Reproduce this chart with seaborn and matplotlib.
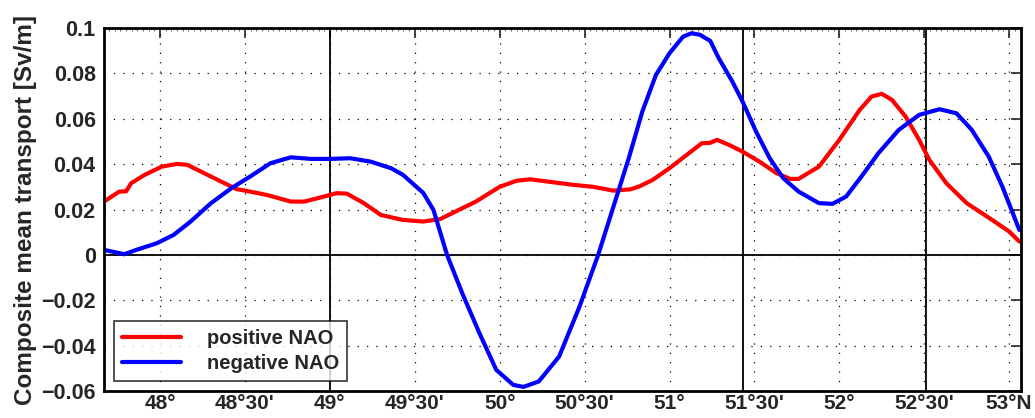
import numpy as np
import pandas as pd
import seaborn as sns
import matplotlib.pyplot as plt
from matplotlib.ticker import MultipleLocator

# latitude (deg N) / transport (Sv/m)
pos_lat = [47.67, 47.76, 47.80, 47.83, 47.91, 48.01, 48.10, 48.16, 48.26, 48.36, 48.45,
           48.53, 48.63, 48.77, 48.85, 48.95, 49.04, 49.10, 49.20, 49.30, 49.43, 49.55,
           49.65, 49.86, 50.00, 50.10, 50.18, 50.43, 50.55, 50.67, 50.77, 50.82, 50.90,
           51.00, 51.10, 51.19, 51.24, 51.28, 51.35, 51.43, 51.53, 51.63, 51.71, 51.76,
           51.88, 52.00, 52.12, 52.19, 52.25, 52.31, 52.39, 52.47, 52.53, 52.63, 52.75,
           52.90, 53.00, 53.06]
pos_val = [0.0235, 0.0279, 0.028, 0.0316, 0.0353, 0.0389, 0.0401, 0.0397, 0.036, 0.0323, 0.029,
           0.0279, 0.0264, 0.0235, 0.0235, 0.0254, 0.0272, 0.027, 0.0228, 0.0176, 0.0154, 0.0147,
           0.0158, 0.0235, 0.030, 0.0327, 0.0333, 0.0309, 0.030, 0.0283, 0.0289, 0.0301, 0.033,
           0.0382, 0.044, 0.0492, 0.0494, 0.0507, 0.0485, 0.0455, 0.0411, 0.036, 0.0335, 0.0335,
           0.0389, 0.0507, 0.0639, 0.0698, 0.071, 0.0683, 0.061, 0.0507, 0.0419, 0.0316, 0.0228,
           0.0154, 0.0103, 0.0059]

neg_lat = [47.67, 47.79, 47.86, 47.98, 48.08, 48.18, 48.30, 48.42, 48.53, 48.65, 48.77,
           48.89, 49.00, 49.12, 49.24, 49.36, 49.43, 49.55, 49.61, 49.69, 49.78, 49.88,
           49.98, 50.08, 50.14, 50.23, 50.35, 50.47, 50.58, 50.67, 50.76, 50.84, 50.92,
           51.00, 51.08, 51.13, 51.18, 51.24, 51.29, 51.37, 51.43, 51.51, 51.59, 51.67,
           51.76, 51.88, 51.96, 52.04, 52.13, 52.23, 52.35, 52.47, 52.59, 52.69, 52.78,
           52.88, 52.96, 53.06]
neg_val = [0.0022, 0.0003, 0.0022, 0.0051, 0.0088, 0.0147, 0.0228, 0.0294, 0.0345, 0.0404, 0.043,
           0.0423, 0.0423, 0.0426, 0.0411, 0.0382, 0.0353, 0.0273, 0.0198, 0.0, -0.017, -0.0344,
           -0.0507, -0.0573, -0.0582, -0.0558, -0.0448, -0.0228, 0.0, 0.0213, 0.0426, 0.0632, 0.0793,
           0.0889, 0.0962, 0.0977, 0.097, 0.0943, 0.0867, 0.0764, 0.0676, 0.0543, 0.0426, 0.0338,
           0.0279, 0.0228, 0.0225, 0.0257, 0.0345, 0.0448, 0.0551, 0.0617, 0.0642, 0.0624, 0.0551,
           0.0433, 0.0301, 0.011]

labels = ['positive NAO', 'negative NAO']
vlines = [49.0, 51.43, 52.51]
xticks = [48.0, 48.5, 49.0, 49.5, 50.0, 50.5, 51.0, 51.5, 52.0, 52.5, 53.0]
xticklabels = ["48°", "48°30'", "49°", "49°30'", "50°", "50°30'", "51°", "51°30'",
               "52°", "52°30'", "53°N"]
yticks = [-0.06, -0.04, -0.02, 0, 0.02, 0.04, 0.06, 0.08, 0.1]
yticklabels = ['\u22120.06', '\u22120.04', '\u22120.02', '0', '0.02', '0.04', '0.06', '0.08', '0.1']

df = pd.concat([
    pd.DataFrame({'lat': pos_lat, 'val': pos_val, 'case': labels[0]}),
    pd.DataFrame({'lat': neg_lat, 'val': neg_val, 'case': labels[1]}),
])

sns.set_style('white')
plt.rcParams['font.family'] = ['Liberation Sans', 'DejaVu Sans']
plt.rcParams['font.weight'] = 'bold'

fig = plt.figure(figsize=(10.35, 4.18), dpi=100)
ax = fig.add_axes([0.1005, 0.0646, 0.886, 0.8684])

sns.lineplot(data=df, x='lat', y='val', hue='case', sort=False,
             palette={labels[0]: '#ff0000', labels[1]: '#0000ff'}, lw=3, ax=ax)

for v in vlines:
    ax.axvline(v, color='k', lw=1.3, zorder=1)
ax.axhline(0, color='k', lw=1.3, zorder=1)

ax.set_xlim(47.67, 53.07)
ax.set_ylim(-0.06, 0.1)
ax.set_xticks(xticks)
ax.set_xticklabels(xticklabels)
ax.set_yticks(yticks)
ax.set_yticklabels(yticklabels)
ax.xaxis.set_minor_locator(MultipleLocator(1 / 30))
ax.grid(True, which='major', ls=(0, (1, 6.5)), color='k', lw=0.9)
ax.tick_params(which='both', direction='in', top=True, right=True, labelsize=15.5)
ax.tick_params(axis='y', pad=6)
ax.tick_params(axis='x', pad=2, labelsize=15)
ax.tick_params(which='major', length=7, width=1.2)
ax.tick_params(which='minor', length=2, width=0.5)
for s in ax.spines.values():
    s.set_linewidth(2)
    s.set_color('k')

ax.set_xlabel('')
ax.set_ylabel('Composite mean transport [Sv/m]', fontsize=17.5, fontweight='bold', labelpad=3)

leg = ax.legend(loc='lower left', fontsize=14.5, handlelength=2.9, handletextpad=1.3,
                frameon=True, fancybox=False, edgecolor='k', borderaxespad=0.5,
                labelspacing=0.3)
leg.get_frame().set_linewidth(1.2)
for t in leg.get_texts():
    t.set_fontweight('bold')

fig.savefig('out.png', dpi=100)
